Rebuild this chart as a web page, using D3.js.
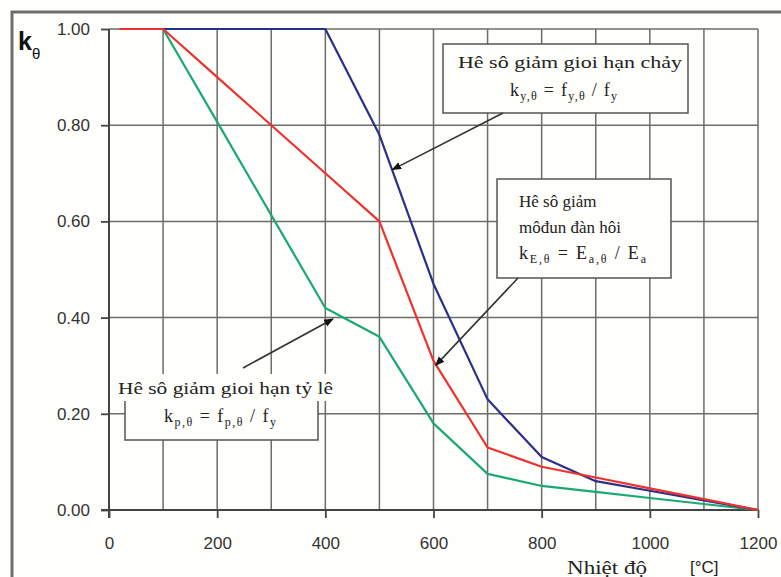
<!DOCTYPE html>
<html>
<head>
<meta charset="utf-8">
<script src="https://cdn.jsdelivr.net/npm/d3@7/dist/d3.min.js"></script>
<style>
  html, body { margin: 0; padding: 0; background: #fefefa; }
  svg { display: block; }
</style>
</head>
<body>
<svg id="chart" width="781" height="577"></svg>
<script>
// Reduction factors for carbon steel at elevated temperature
const temps   = [20, 100, 200, 300, 400, 500, 600, 700, 800, 900, 1000, 1100, 1200];
const kyTheta = [1.00, 1.00, 1.00, 1.00, 1.00, 0.78, 0.47, 0.23, 0.11, 0.06, 0.04, 0.02, 0.00];
const kpTheta = [1.00, 1.00, 0.807, 0.613, 0.42, 0.36, 0.18, 0.075, 0.05, 0.0375, 0.025, 0.0125, 0.00];
const kETheta = [1.00, 1.00, 0.90, 0.80, 0.70, 0.60, 0.31, 0.13, 0.09, 0.0675, 0.045, 0.0225, 0.00];

const xTickLabels = [0, 200, 400, 600, 800, 1000, 1200];
const xGrid = [100, 200, 300, 400, 500, 600, 700, 800, 900, 1000, 1100, 1200];
const yTickLabels = [0, 0.2, 0.4, 0.6, 0.8, 1.0];

const seriesColors = { ky: "#2c2f88", kp: "#1aa874", kE: "#f03030" };

const svg = d3.select("#chart");
const plotLeft = 109, plotRight = 758, plotTop = 29, plotBottom = 510;

const x = d3.scaleLinear().domain([0, 1200]).range([plotLeft, plotRight]);
const y = d3.scaleLinear().domain([0, 1]).range([plotBottom, plotTop]);

// outer frame
svg.append("rect")
  .attr("x", 12).attr("y", 12).attr("width", 800).attr("height", 620)
  .attr("fill", "#fefefa").attr("stroke", "#6e6e6e").attr("stroke-width", 3);

// grid
const grid = svg.append("g").attr("stroke", "#6c6c6c").attr("stroke-width", 1.5);
grid.selectAll("line.v").data(xGrid).join("line")
  .attr("x1", d => x(d)).attr("x2", d => x(d))
  .attr("y1", y(0)).attr("y2", y(1));
grid.selectAll("line.h").data(yTickLabels.filter(d => d > 0)).join("line")
  .attr("x1", x(0)).attr("x2", x(1200))
  .attr("y1", d => y(d)).attr("y2", d => y(d));

// axes
const yAxis = svg.append("g")
  .attr("transform", `translate(${plotLeft},0)`)
  .call(d3.axisLeft(y).tickValues(yTickLabels).tickFormat(d3.format(".2f")).tickSize(8).tickPadding(11));
const xAxis = svg.append("g")
  .attr("transform", `translate(0,${plotBottom})`)
  .call(d3.axisBottom(x).tickValues(xTickLabels).tickFormat(d3.format("d")).tickSize(8).tickPadding(19));

[yAxis, xAxis].forEach(g => {
  g.select(".domain").remove();
  g.selectAll(".tick line").attr("stroke", "#444").attr("stroke-width", 1.8);
  g.selectAll(".tick text")
    .attr("fill", "#333")
    .style("font-family", "'Liberation Sans', Arial, sans-serif")
    .style("font-size", "17px");
});
svg.append("line")
  .attr("x1", x(0)).attr("x2", x(0)).attr("y1", y(1)).attr("y2", y(0) + 8)
  .attr("stroke", "#444").attr("stroke-width", 2);
svg.append("line")
  .attr("x1", x(0) - 8).attr("x2", x(1200)).attr("y1", y(0)).attr("y2", y(0))
  .attr("stroke", "#444").attr("stroke-width", 2);

// curves
const line = d3.line().x(d => x(d[0])).y(d => y(d[1]));
const series = [
  { key: "kp", values: kpTheta },
  { key: "ky", values: kyTheta },
  { key: "kE", values: kETheta }
];
series.forEach(s => {
  svg.append("path")
    .datum(temps.map((t, i) => [t, s.values[i]]))
    .attr("d", line)
    .attr("fill", "none")
    .attr("stroke", seriesColors[s.key])
    .attr("stroke-width", 2.2)
    .attr("stroke-linejoin", "round");
});

// value of a curve at a given temperature (linear between table points)
function at(values, t) {
  const i = d3.bisectRight(temps, t) - 1;
  const j = Math.min(i + 1, temps.length - 1);
  if (i === j) return values[i];
  const f = (t - temps[i]) / (temps[j] - temps[i]);
  return values[i] + f * (values[j] - values[i]);
}

// arrow marker
svg.append("defs").append("marker")
  .attr("id", "arrowhead").attr("viewBox", "0 0 10 10")
  .attr("refX", 9).attr("refY", 5)
  .attr("markerWidth", 6).attr("markerHeight", 6)
  .attr("markerUnits", "strokeWidth")
  .attr("orient", "auto")
  .append("path").attr("d", "M0,1 L10,5 L0,9 Z").attr("fill", "#111");

const serif = "'Liberation Serif', 'Times New Roman', serif";
const ink = "#222";

// formula text: main symbols with lowered, smaller subscripts
function formula(g, xPos, yPos, width, parts) {
  const t = g.append("text")
    .attr("x", xPos).attr("y", yPos)
    .attr("textLength", width).attr("lengthAdjust", "spacing")
    .attr("fill", ink)
    .style("font-family", serif)
    .style("font-size", "18px");
  parts.forEach(p => {
    const span = t.append("tspan").text(p[0]);
    if (p[1]) span.attr("dy", 4).style("font-size", "12px");
    else span.attr("dy", p[2] ? -4 : 0);
  });
  return t;
}

function arrow(x1, y1, t, values, dy) {
  svg.append("line")
    .attr("x1", x1).attr("y1", y1)
    .attr("x2", x(t)).attr("y2", y(at(values, t)) + dy)
    .attr("stroke", "#333").attr("stroke-width", 1.6)
    .attr("marker-end", "url(#arrowhead)");
}

const ann = svg.append("g");

// yield strength box
ann.append("rect").attr("x", 443).attr("y", 44).attr("width", 245).attr("height", 69)
  .attr("fill", "#fefefa").attr("stroke", "#555").attr("stroke-width", 1.5);
ann.append("text").attr("x", 458).attr("y", 68)
  .attr("textLength", 224).attr("lengthAdjust", "spacingAndGlyphs")
  .attr("fill", ink).style("font-family", serif).style("font-size", "17px")
  .text("Hê sô giảm gioi hạn chảy");
formula(ann, 510, 96, 107, [["k"], ["y,θ", true], [" = f", false, true], ["y,θ", true], [" / f", false, true], ["y", true]]);
arrow(503, 113, 524, kyTheta, -1);

// elastic modulus box
ann.append("rect").attr("x", 497).attr("y", 179).attr("width", 174).attr("height", 99)
  .attr("fill", "#fefefa").attr("stroke", "#555").attr("stroke-width", 1.5);
const tb = ann.append("g").attr("fill", ink).style("font-family", serif).style("font-size", "17px");
tb.append("text").attr("x", 519).attr("y", 207).text("Hê sô giảm");
tb.append("text").attr("x", 519).attr("y", 233).text("môđun đàn hôi");
formula(ann, 519, 259, 127, [["k"], ["E,θ", true], [" = E", false, true], ["a,θ", true], [" / E", false, true], ["a", true]]);
arrow(518, 278, 604, kETheta, 1);

// proportional limit box
ann.append("rect").attr("x", 125).attr("y", 378).attr("width", 193).attr("height", 62)
  .attr("fill", "#fefefa").attr("stroke", "#555").attr("stroke-width", 1.5);
ann.append("rect").attr("x", 115).attr("y", 374).attr("width", 222).attr("height", 27)
  .attr("fill", "#fefefa");
ann.append("text").attr("x", 118).attr("y", 394)
  .attr("textLength", 215).attr("lengthAdjust", "spacingAndGlyphs")
  .attr("fill", ink).style("font-family", serif).style("font-size", "17px")
  .text("Hê sô giảm gioi hạn tỷ lê");
formula(ann, 164, 422, 112, [["k"], ["p,θ", true], [" = f", false, true], ["p,θ", true], [" / f", false, true], ["y", true]]);
arrow(243, 368, 414, kpTheta, 7);

// axis titles
const kt = svg.append("text").attr("x", 18).attr("y", 50).attr("fill", "#111")
  .style("font-family", "'Liberation Sans', Arial, sans-serif");
kt.append("tspan").text("k").style("font-size", "25px").style("font-weight", "bold");
kt.append("tspan").text("θ").attr("dy", 9).style("font-size", "15px");

svg.append("text").attr("x", 567).attr("y", 574)
  .attr("textLength", 80).attr("lengthAdjust", "spacingAndGlyphs")
  .attr("fill", ink).style("font-family", serif).style("font-size", "18px").text("Nhiệt độ");
svg.append("text").attr("x", 690).attr("y", 573).attr("fill", ink)
  .style("font-family", "'Liberation Sans', Arial, sans-serif").style("font-size", "17px").text("[°C]");
</script>
</body>
</html>
